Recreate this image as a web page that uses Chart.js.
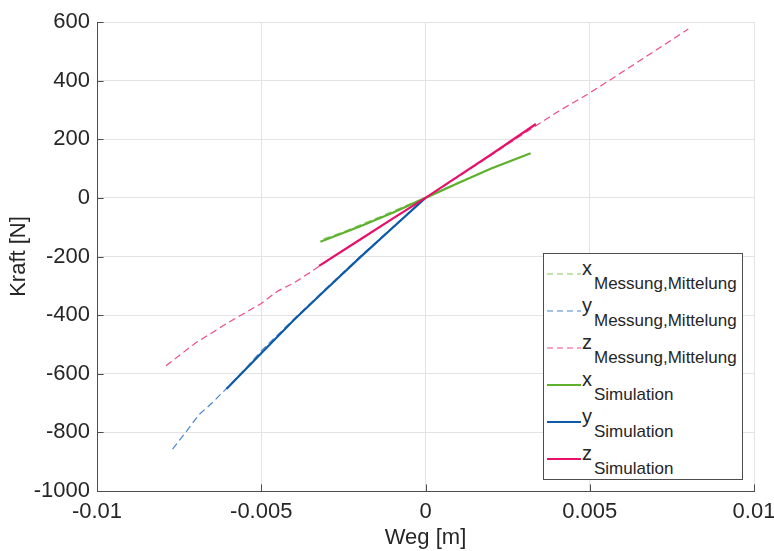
<!DOCTYPE html>
<html>
<head>
<meta charset="utf-8">
<script src="https://cdn.jsdelivr.net/npm/chart.js@4"></script>
<style>
    body { margin: 0; background: #fff; }
    #wrap { position: relative; width: 774px; height: 551px; }
    #legend {
        position: absolute; left: 543px; top: 253px; width: 198px; height: 225px;
        border: 1px solid #4d4d4d; background: #fff;
        font-family: 'Liberation Sans', Arial, Helvetica, sans-serif; color: #262626;
    }
    #legend .main, #legend .sub { position: absolute; line-height: 1; white-space: nowrap; }
    #legend .main { font-size: 20px; }
    #legend .sub { font-size: 17px; }
    #legend svg { position: absolute; left: 3px; }
</style>
</head>
<body>
<div id="wrap">
    <canvas id="chart" width="774" height="551"></canvas>
    <div id="legend"></div>
</div>
<script>
// Weg [m] / Kraft [N]
const xMessWeg = [-0.0031, -0.0025, -0.002, -0.0015, -0.001, -0.0005, 0, 0.0005, 0.001, 0.0015, 0.002, 0.0025, 0.003];
const xMessKraft = [-140, -116, -93, -70, -46, -22, 0, 27, 52, 76, 100, 122, 144];

const yMessWeg = [-0.0077, -0.0073, -0.0069, -0.0065, -0.0061, -0.0055, -0.005, -0.004, -0.003, -0.002, -0.001, 0];
const yMessKraft = [-857, -800, -740, -700, -655, -585, -522, -413, -306, -201, -100, 0];

const zMessWeg = [-0.0079, -0.007, -0.006, -0.005, -0.0045, -0.004, -0.003, -0.002, -0.001, 0, 0.001, 0.002, 0.003, 0.004, 0.005, 0.006, 0.007, 0.008];
const zMessKraft = [-573, -495, -425, -360, -318, -290, -216, -143, -70, 0, 72, 146, 220, 292, 358, 430, 503, 576];

const xSimWeg = [-0.0032, -0.002, -0.001, 0, 0.001, 0.002, 0.0032];
const xSimKraft = [-150, -98, -51, 0, 51, 100, 152];

const ySimWeg = [-0.00606, -0.005, -0.004, -0.003, -0.002, -0.001, 0];
const ySimKraft = [-652, -530, -416, -309, -204, -102, 0];

const zSimWeg = [-0.00324, -0.002, -0.001, 0, 0.001, 0.002, 0.00336];
const zSimKraft = [-232, -143, -71, 0, 74, 148, 252];

const xTicks = [-0.01, -0.005, 0, 0.005, 0.01];
const yTicks = [-1000, -800, -600, -400, -200, 0, 200, 400, 600];

const legendMain = ['x', 'y', 'z', 'x', 'y', 'z'];
const legendSub = ['Messung,Mittelung', 'Messung,Mittelung', 'Messung,Mittelung', 'Simulation', 'Simulation', 'Simulation'];

const green = '#5db12f', blue = '#0d5aa7', pink = '#e8106a';
const greenLight = '#86c760', blueLight = '#4a85cb', pinkLight = '#ec4a8e';

const FONT = "'Liberation Sans', Arial, Helvetica, sans-serif";
const TEXT = '#262626';

function pts(xs, ys) {
    return xs.map((x, i) => ({ x: x, y: ys[i] }));
}

const series = [
    { data: pts(xMessWeg, xMessKraft), color: greenLight, dash: [7, 4], width: 1.2, order: 6 },
    { data: pts(yMessWeg, yMessKraft), color: blueLight, dash: [7, 4], width: 1.2, order: 5 },
    { data: pts(zMessWeg, zMessKraft), color: pinkLight, dash: [7, 4], width: 1.2, order: 4 },
    { data: pts(xSimWeg, xSimKraft), color: green, dash: [], width: 2.2, order: 3 },
    { data: pts(ySimWeg, ySimKraft), color: blue, dash: [], width: 2.2, order: 2 },
    { data: pts(zSimWeg, zSimKraft), color: pink, dash: [], width: 2.2, order: 1 }
];

// kleine Ticks nach innen wie in MATLAB
const innerTicks = {
    id: 'innerTicks',
    afterDraw(chart) {
        const ctx = chart.ctx;
        const xs = chart.scales.x, ys = chart.scales.y;
        const area = chart.chartArea;
        ctx.save();
        ctx.strokeStyle = '#4d4d4d';
        ctx.lineWidth = 1;
        ctx.beginPath();
        yTicks.forEach(v => {
            const p = Math.round(ys.getPixelForValue(v)) + 0.5;
            ctx.moveTo(area.left, p);
            ctx.lineTo(area.left + 6.6, p);
        });
        xTicks.forEach(v => {
            const p = Math.round(xs.getPixelForValue(v)) + 0.5;
            ctx.moveTo(p, area.bottom);
            ctx.lineTo(p, area.bottom - 6.6);
        });
        ctx.stroke();
        ctx.restore();
    }
};

new Chart(document.getElementById('chart'), {
    type: 'line',
    data: {
        datasets: series.map((s, i) => ({
            label: legendMain[i] + legendSub[i],
            data: s.data,
            borderColor: s.color,
            backgroundColor: s.color,
            borderWidth: s.width,
            borderDash: s.dash,
            pointRadius: 0,
            fill: false,
            tension: 0,
            order: s.order
        }))
    },
    options: {
        responsive: false,
        animation: false,
        layout: { padding: { left: 0, top: 22, right: 20, bottom: 0 } },
        plugins: {
            legend: { display: false },
            tooltip: { enabled: false }
        },
        scales: {
            x: {
                type: 'linear',
                min: -0.01,
                max: 0.01,
                afterFit: s => { s.height = 60; s.paddingLeft = 0; s.paddingRight = 0; },
                afterBuildTicks: s => { s.ticks = xTicks.map(v => ({ value: v })); },
                ticks: {
                    padding: 8,
                    color: TEXT,
                    font: { family: FONT, size: 22 },
                    maxRotation: 0,
                    callback: v => v === 0 ? '0' : String(+v.toFixed(3))
                },
                grid: { color: '#e3e3e3', drawTicks: false },
                border: { display: true, color: '#4d4d4d', width: 1 },
                title: {
                    display: true,
                    text: 'Weg [m]',
                    color: TEXT,
                    font: { family: FONT, size: 22 },
                    padding: { top: 0, bottom: 0 }
                }
            },
            y: {
                type: 'linear',
                min: -1000,
                max: 600,
                afterFit: s => { s.width = 97; s.paddingTop = 0; s.paddingBottom = 0; },
                afterBuildTicks: s => { s.ticks = yTicks.map(v => ({ value: v })); },
                ticks: {
                    padding: 7,
                    color: TEXT,
                    font: { family: FONT, size: 22 },
                    callback: v => String(v)
                },
                grid: { color: '#e3e3e3', drawTicks: false },
                border: { display: true, color: '#4d4d4d', width: 1 },
                title: {
                    display: true,
                    text: 'Kraft [N]',
                    color: TEXT,
                    font: { family: FONT, size: 22 },
                    padding: { top: 6, bottom: 0 }
                }
            }
        }
    },
    plugins: [innerTicks]
});

// Legende mit Indizes als HTML-Text
const legendBox = document.getElementById('legend');
series.forEach((s, i) => {
    const base = 20 + i * 37.06;
    const svgNS = 'http://www.w3.org/2000/svg';
    const svg = document.createElementNS(svgNS, 'svg');
    svg.setAttribute('width', '34');
    svg.setAttribute('height', '4');
    svg.style.top = (base - 2) + 'px';
    const line = document.createElementNS(svgNS, 'line');
    line.setAttribute('x1', '0'); line.setAttribute('y1', '2');
    line.setAttribute('x2', '34'); line.setAttribute('y2', '2');
    line.setAttribute('stroke', s.color);
    line.setAttribute('stroke-width', s.width);
    if (s.dash.length) line.setAttribute('stroke-dasharray', '6 4');
    svg.appendChild(line);
    legendBox.appendChild(svg);

    const main = document.createElement('span');
    main.className = 'main';
    main.textContent = legendMain[i];
    main.style.left = '38px';
    main.style.top = (base + 1 - 0.8465 * 20) + 'px';
    legendBox.appendChild(main);

    const sub = document.createElement('span');
    sub.className = 'sub';
    sub.textContent = legendSub[i];
    sub.style.left = '50px';
    sub.style.top = (base + 15 - 0.8465 * 17) + 'px';
    legendBox.appendChild(sub);
});
</script>
</body>
</html>
